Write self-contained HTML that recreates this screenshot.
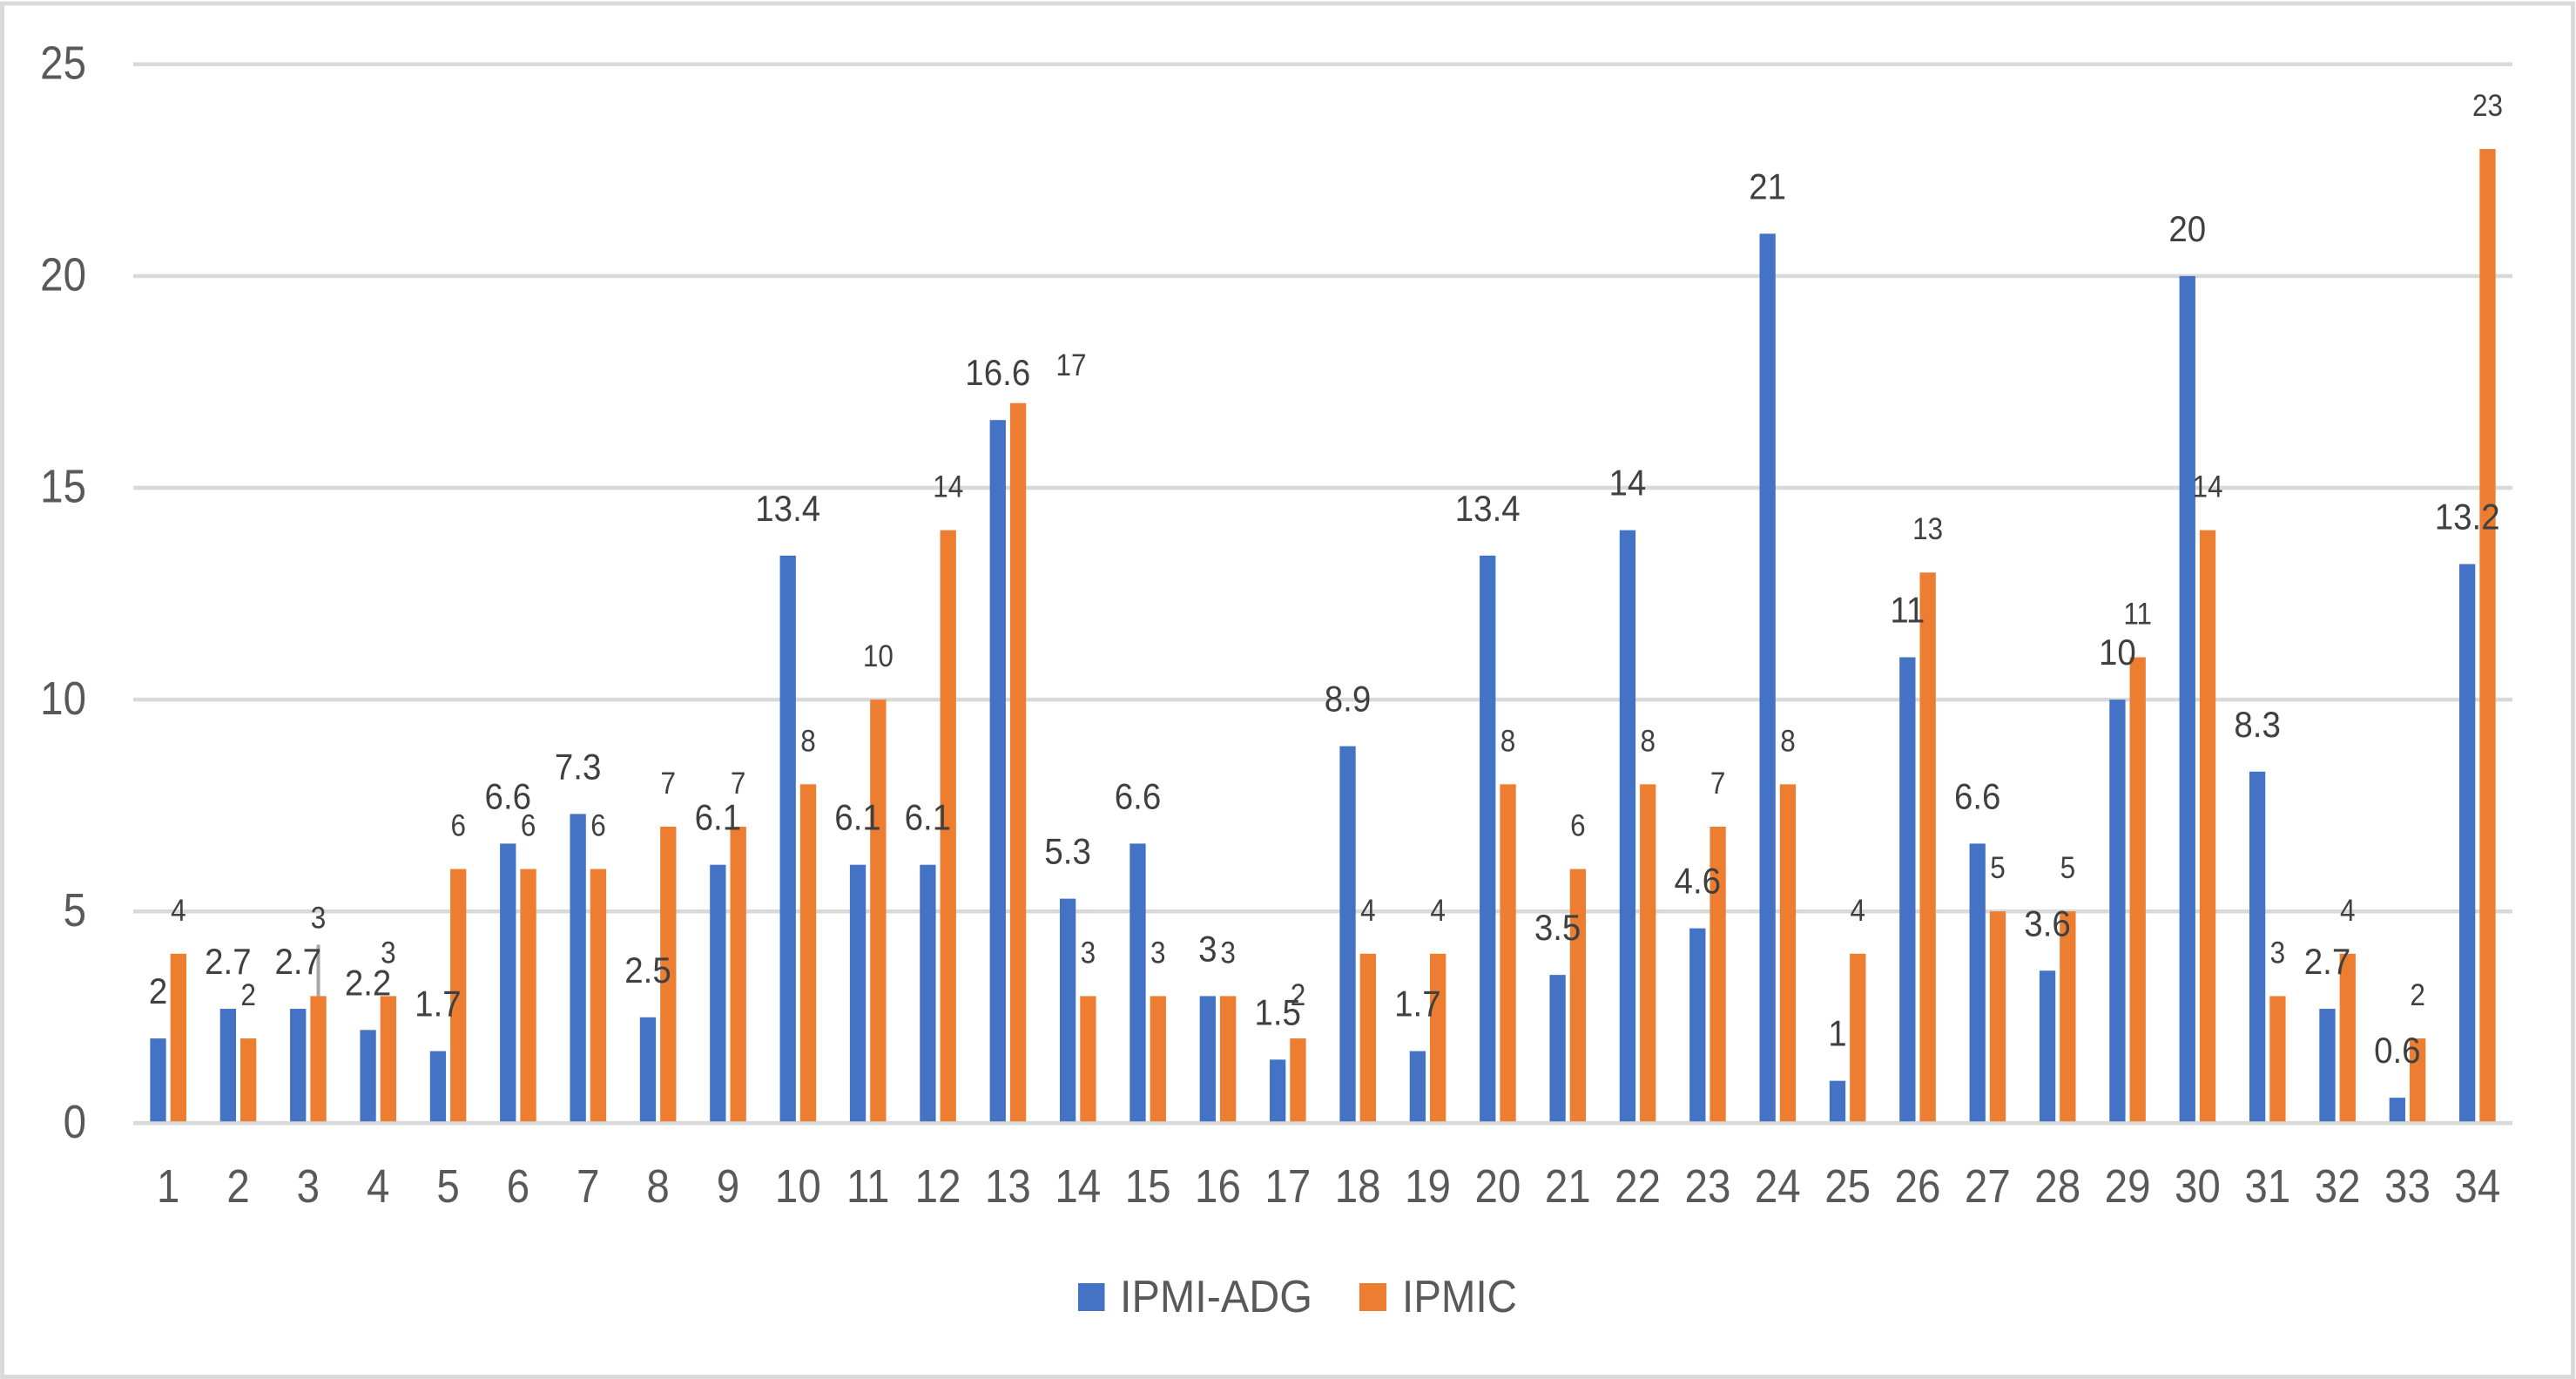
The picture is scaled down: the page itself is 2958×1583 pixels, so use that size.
<!DOCTYPE html>
<html lang="en">
<head>
<meta charset="utf-8">
<title>IPMI-ADG and IPMIC clustered bar chart</title>
<style>
  html, body { margin: 0; padding: 0; background: #fff; }
  body { width: 2958px; height: 1583px; overflow: hidden; }
  svg { display: block; }
  text { font-family: "Liberation Sans", sans-serif; }
</style>
</head>
<body>
<svg id="chart" xmlns="http://www.w3.org/2000/svg" width="2958" height="1583" viewBox="0 0 2958 1583">
  <rect x="0" y="0" width="2958" height="1583" fill="#ffffff"/>
  <rect x="2.5" y="4" width="2952" height="1576.5" fill="none" stroke="#d9d9d9" stroke-width="4.8"/>
  <g id="grid"></g>
  <g id="y-ticks"></g>
  <g id="x-ticks"></g>
  <g id="bars"></g>
  <g id="labels"></g>
  <g id="legend">
    <g>
      <rect x="1238" y="1473" width="30.5" height="32" fill="#4472c4"/>
      <text x="1286" y="1506" font-size="52" fill="#595959" textLength="221" lengthAdjust="spacingAndGlyphs">IPMI-ADG</text>
    </g>
    <g>
      <rect x="1561" y="1473" width="31" height="32" fill="#ed7d31"/>
      <text x="1610" y="1506" font-size="52" fill="#595959" textLength="132" lengthAdjust="spacingAndGlyphs">IPMIC</text>
    </g>
  </g>
</svg>
<script>
const categories = [1,2,3,4,5,6,7,8,9,10,11,12,13,14,15,16,17,18,19,20,21,22,23,24,25,26,27,28,29,30,31,32,33,34];
const ipmiAdgValues = [2,2.7,2.7,2.2,1.7,6.6,7.3,2.5,6.1,13.4,6.1,6.1,16.6,5.3,6.6,3,1.5,8.9,1.7,13.4,3.5,14,4.6,21,1,11,6.6,3.6,10,20,8.3,2.7,0.6,13.2];
const ipmicValues = [4,2,3,3,6,6,6,7,7,8,10,14,17,3,3,3,2,4,4,8,6,8,7,8,4,13,5,5,11,14,3,4,2,23];
const yTickLabels = [0,5,10,15,20,25];

const SVG_NS = 'http://www.w3.org/2000/svg';
const PLOT_LEFT = 153, PLOT_RIGHT = 2885, Y_ZERO = 1289.3, PX_PER_UNIT = 48.62;
const BAR_WIDTH = 18.3, BAR_GAP = 5, BAR_FLOOR = 2;
const BLUE = '#4472c4', ORANGE = '#ed7d31';

function xBand(i) { return PLOT_LEFT + (i + 0.5) * (PLOT_RIGHT - PLOT_LEFT) / categories.length; }
function yScale(v) { return Y_ZERO - v * PX_PER_UNIT; }

function make(tag, attrs, parent, content) {
  const el = document.createElementNS(SVG_NS, tag);
  for (const k in attrs) el.setAttribute(k, attrs[k]);
  if (content !== undefined) el.textContent = content;
  parent.appendChild(el);
  return el;
}
function squeezedText(x, y, str, size, sx, anchor, fill, parent) {
  return make('text', {
    transform: 'translate(' + x + ' ' + y + ') scale(' + sx + ' 1)',
    'font-size': size, 'text-anchor': anchor, fill: fill
  }, parent, String(str));
}

const gridG = document.getElementById('grid');
const yG = document.getElementById('y-ticks');
const xG = document.getElementById('x-ticks');
const barG = document.getElementById('bars');
const labelG = document.getElementById('labels');

yTickLabels.forEach(function (t) {
  const line = make('rect', { x: PLOT_LEFT, y: yScale(t) - 2.3, width: PLOT_RIGHT - PLOT_LEFT, height: 4.6, fill: '#d9d9d9' }, gridG);
  
  
  const lab = squeezedText(99, yScale(t) + 16.7, t, 54, 0.88, 'end', '#595959', yG);
  
  
});

categories.forEach(function (c, i) {
  const lab = squeezedText(xBand(i), 1380, c, 54, 0.88, 'middle', '#595959', xG);
  
  

  const blueX = xBand(i) - BAR_GAP / 2 - BAR_WIDTH;
  const blueTop = yScale(ipmiAdgValues[i]);
  const blueBar = make('rect', { x: blueX, y: blueTop, width: BAR_WIDTH, height: Y_ZERO - BAR_FLOOR - blueTop, fill: BLUE }, barG);
  
  

  const orangeX = xBand(i) + BAR_GAP / 2;
  const orangeTop = yScale(ipmicValues[i]);
  const orangeBar = make('rect', { x: orangeX, y: orangeTop, width: BAR_WIDTH, height: Y_ZERO - BAR_FLOOR - orangeTop, fill: ORANGE }, barG);
  
  

  // Manually dragged labels in the reference: category 3 (with a leader line) and category 13.
  let nudgeX = 0, nudgeY = 0, leader = false;
  if (c === 3) { nudgeY = -40; leader = true; }
  if (c === 13) { nudgeX = 61; nudgeY = 6; }

  const orangeCx = orangeX + BAR_WIDTH / 2;
  if (leader) {
    const lead = make('rect', { x: orangeCx - 2, y: orangeTop - 59, width: 4, height: 59, fill: '#a6a6a6' }, labelG);
    
    
  }

  const blueLabel = squeezedText(blueX + BAR_WIDTH / 2, blueTop - 40, ipmiAdgValues[i], 41.4, 0.93, 'middle', '#404040', labelG);
  
  

  const orangeLabel = squeezedText(orangeCx + nudgeX, orangeTop - 38 + nudgeY, ipmicValues[i], 35, 0.9, 'middle', '#404040', labelG);
  
  
});
</script>
</body>
</html>
